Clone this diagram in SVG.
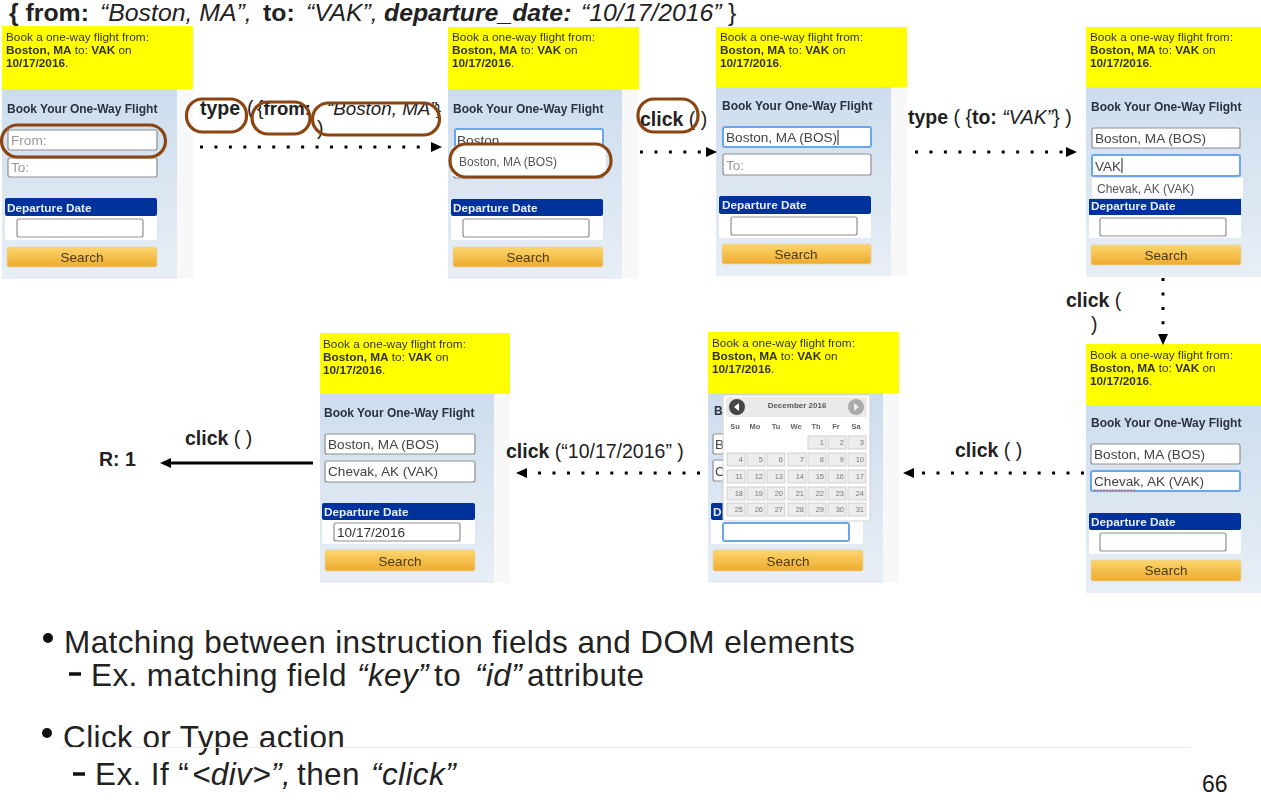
<svg xmlns="http://www.w3.org/2000/svg" width="1261" height="808" viewBox="0 0 1261 808">
<style>
text{font-family:"Liberation Sans",Arial,sans-serif;fill:#1a1a1a}
.y{fill:#ffff00}
.strip{fill:#f8f8f8}
.blue{fill:url(#bg)}
.yt{font-size:11.8px;fill:#33331a}
.yb{font-weight:bold}
.title{font-size:12px;font-weight:bold;fill:#2a3140}
.in{fill:#fff;stroke:#8f8f8f;stroke-width:1.2}
.foc{fill:#fff;stroke:#6aa6e8;stroke-width:2}
.it{font-size:13.6px;fill:#444}
.ph{font-size:13.6px;fill:#999}
.dd{font-size:12px;fill:#555}
.dep{fill:#00329b}
.dt{font-size:11.800px;font-weight:bold;fill:#e8eefa}
.wh{fill:#fff}
.btn{fill:url(#bt);stroke:#e2d3a8;stroke-width:.8}
.bl{font-size:13.500px;fill:#4a3a10;text-anchor:middle}
.lab{font-size:19.500px;fill:#222}
.b{font-weight:bold}
.i{font-style:italic}
.ring{fill:none;stroke:#8b4513;stroke-width:3.2}
.dot{fill:none;stroke:#000;stroke-width:3;stroke-dasharray:3 11.45}
.solid{fill:none;stroke:#000;stroke-width:3}
.big{font-size:31.500px;letter-spacing:.4px;fill:#222}
.cell{fill:#ededed;stroke:#c8c8c8;stroke-width:.8}
.cn{font-size:7.500px;fill:#777;text-anchor:end}
.cd{font-size:7.500px;font-weight:bold;fill:#666;text-anchor:middle}
.hd{font-size:24.800px;fill:#222}
</style>
<defs>
<linearGradient id="bg" x1="0" y1="0" x2="0" y2="1"><stop offset="0" stop-color="#cddded"/><stop offset="1" stop-color="#e8eef6"/></linearGradient>
<linearGradient id="bt" x1="0" y1="0" x2="0" y2="1"><stop offset="0" stop-color="#fcd66e"/><stop offset="1" stop-color="#eeaa2e"/></linearGradient>
<filter id="soft" x="-2%" y="-2%" width="104%" height="104%"><feGaussianBlur stdDeviation="0.4"/></filter>
</defs>

<text id="instruction" class="hd" y="21"><tspan class="b" x="9">{ from:</tspan><tspan class="i" x="100">“Boston, MA”,</tspan><tspan class="b" x="263">to:</tspan><tspan class="i" x="306">“VAK”,</tspan><tspan class="b i" x="384">departure_date:</tspan><tspan class="i" x="581">“10/17/2016”</tspan><tspan x="728">}</tspan></text>

<g id="panel-1" filter="url(#soft)">
<rect class="blue" x="2" y="89" width="175" height="190"/><rect class="strip" x="177" y="89" width="16" height="190"/>
<rect class="y" x="2" y="26" width="191" height="63"/>
<text class="yt" x="6" y="41">Book a one-way flight from:</text><text class="yt" x="6" y="54"><tspan class="yb">Boston, MA</tspan> to: <tspan class="yb">VAK</tspan> on</text><text class="yt" x="6" y="67"><tspan class="yb">10/17/2016</tspan>.</text>
<text class="title" x="7" y="113">Book Your One-Way Flight</text>
<rect class="in" x="8" y="130" width="149" height="20" rx="2"/><text class="ph" x="11" y="145">From:</text>
<rect class="in" x="8" y="158" width="149" height="19" rx="2"/><text class="ph" x="11" y="172">To:</text>
<rect class="wh" x="5" y="198" width="152" height="42" rx="2"/><rect class="dep" x="5" y="198" width="152" height="18" rx="2"/><text class="dt" x="7" y="212">Departure Date</text>
<rect class="in" x="17" y="219" width="126" height="18" rx="2"/>
<rect class="btn" x="7" y="247" width="150" height="20" rx="2"/><text class="bl" x="82" y="262">Search</text>
</g>

<g id="panel-2" filter="url(#soft)">
<rect class="blue" x="448" y="89" width="174" height="190"/><rect class="strip" x="622" y="89" width="17" height="190"/>
<rect class="y" x="448" y="27" width="191" height="62"/>
<text class="yt" x="452" y="41">Book a one-way flight from:</text><text class="yt" x="452" y="54"><tspan class="yb">Boston, MA</tspan> to: <tspan class="yb">VAK</tspan> on</text><text class="yt" x="452" y="67"><tspan class="yb">10/17/2016</tspan>.</text>
<text class="title" x="453" y="113">Book Your One-Way Flight</text>
<rect class="foc" x="455" y="129" width="148" height="21" rx="2"/><text class="it" x="457" y="145">Boston</text>
<rect class="in" x="454" y="165" width="149" height="13" rx="2"/>
<rect class="wh" x="452" y="146" width="154" height="30"/><text class="dd" x="459" y="166">Boston, MA (BOS)</text>
<rect class="wh" x="451" y="199" width="152" height="41" rx="2"/><rect class="dep" x="451" y="199" width="152" height="17" rx="2"/><text class="dt" x="453" y="212">Departure Date</text>
<rect class="in" x="463" y="219" width="126" height="18" rx="2"/>
<rect class="btn" x="453" y="247" width="150" height="20" rx="2"/><text class="bl" x="528" y="262">Search</text>
</g>

<g id="panel-3" filter="url(#soft)">
<rect class="blue" x="716" y="87" width="175" height="189"/><rect class="strip" x="891" y="87" width="16" height="189"/>
<rect class="y" x="716" y="27" width="191" height="60"/>
<text class="yt" x="720" y="41">Book a one-way flight from:</text><text class="yt" x="720" y="54"><tspan class="yb">Boston, MA</tspan> to: <tspan class="yb">VAK</tspan> on</text><text class="yt" x="720" y="67"><tspan class="yb">10/17/2016</tspan>.</text>
<text class="title" x="722" y="110">Book Your One-Way Flight</text>
<rect class="foc" x="723" y="127" width="148" height="20" rx="2"/><text class="it" x="726" y="142">Boston, MA (BOS)</text><path d="M838 130V145" stroke="#222"/>
<rect class="in" x="723" y="154" width="148" height="21" rx="2"/><text class="ph" x="726" y="170">To:</text>
<rect class="wh" x="719" y="196" width="152" height="42" rx="2"/><rect class="dep" x="719" y="196" width="152" height="18" rx="2"/><text class="dt" x="722" y="209">Departure Date</text>
<rect class="in" x="731" y="217" width="126" height="18" rx="2"/>
<rect class="btn" x="722" y="244" width="149" height="20" rx="2"/><text class="bl" x="796" y="259">Search</text>
</g>

<g id="panel-4" filter="url(#soft)">
<rect class="blue" x="1086" y="87" width="175" height="190"/>
<rect class="y" x="1086" y="27" width="175" height="60"/>
<text class="yt" x="1090" y="41">Book a one-way flight from:</text><text class="yt" x="1090" y="54"><tspan class="yb">Boston, MA</tspan> to: <tspan class="yb">VAK</tspan> on</text><text class="yt" x="1090" y="67"><tspan class="yb">10/17/2016</tspan>.</text>
<text class="title" x="1091" y="111">Book Your One-Way Flight</text>
<rect class="in" x="1092" y="128" width="148" height="20" rx="2"/><text class="it" x="1095" y="143">Boston, MA (BOS)</text>
<rect class="foc" x="1092" y="155" width="148" height="21" rx="2"/><text class="it" x="1095" y="171">VAK</text><path d="M1122 158V173" stroke="#222"/>
<rect class="wh" x="1092" y="178" width="151" height="20"/><text class="dd" x="1097" y="193">Chevak, AK (VAK)</text>
<rect class="wh" x="1089" y="199" width="152" height="39" rx="1"/><rect class="dep" x="1089" y="199" width="152" height="16"/><text class="dt" x="1091" y="210">Departure Date</text>
<rect class="in" x="1100" y="218" width="126" height="18" rx="2"/>
<rect class="btn" x="1091" y="245" width="150" height="20" rx="2"/><text class="bl" x="1166" y="260">Search</text>
</g>

<g id="panel-5" filter="url(#soft)">
<rect class="blue" x="1086" y="405" width="175" height="188"/>
<rect class="y" x="1086" y="344" width="175" height="61"/>
<text class="yt" x="1090" y="359">Book a one-way flight from:</text><text class="yt" x="1090" y="372"><tspan class="yb">Boston, MA</tspan> to: <tspan class="yb">VAK</tspan> on</text><text class="yt" x="1090" y="385"><tspan class="yb">10/17/2016</tspan>.</text>
<text class="title" x="1091" y="427">Book Your One-Way Flight</text>
<rect class="in" x="1091" y="444" width="149" height="20" rx="2"/><text class="it" x="1094" y="459">Boston, MA (BOS)</text>
<rect class="foc" x="1091" y="471" width="149" height="20" rx="2"/><text class="it" x="1094" y="486">Chevak, AK (VAK)</text><path d="M1094 490H1135" stroke="#e05050" stroke-dasharray="2 1"/>
<rect class="wh" x="1089" y="513" width="152" height="41" rx="2"/><rect class="dep" x="1089" y="513" width="152" height="17" rx="2"/><text class="dt" x="1091" y="526">Departure Date</text>
<rect class="in" x="1100" y="533" width="126" height="18" rx="2"/>
<rect class="btn" x="1091" y="560" width="150" height="21" rx="2"/><text class="bl" x="1166" y="575">Search</text>
</g>

<g id="panel-6" filter="url(#soft)">
<rect class="blue" x="708" y="393" width="175" height="190"/><rect class="strip" x="883" y="393" width="16" height="190"/>
<rect class="y" x="708" y="332" width="191" height="61"/>
<text class="yt" x="712" y="347">Book a one-way flight from:</text><text class="yt" x="712" y="360"><tspan class="yb">Boston, MA</tspan> to: <tspan class="yb">VAK</tspan> on</text><text class="yt" x="712" y="373"><tspan class="yb">10/17/2016</tspan>.</text>
<text class="title" x="714" y="415">B</text>
<rect class="in" x="713" y="434" width="150" height="20" rx="2"/><text class="it" x="715" y="449">B</text>
<rect class="in" x="713" y="460" width="150" height="21" rx="2"/><text class="it" x="715" y="476">C</text>
<rect class="wh" x="711" y="503" width="152" height="41" rx="2"/><rect class="dep" x="711" y="503" width="152" height="17" rx="2"/><text class="dt" x="713" y="516">D</text>
<rect class="foc" x="723" y="523" width="126" height="18" rx="2"/>
<rect class="btn" x="713" y="550" width="150" height="21" rx="2"/><text class="bl" x="788" y="566">Search</text>
<rect x="723" y="395" width="147" height="126" rx="2" fill="#fff" stroke="#d0d0d0"/>
<rect x="726" y="397" width="141" height="20" rx="2" fill="#eaeaea"/>
<circle cx="737" cy="407" r="8" fill="#444"/><path d="M739 403L734 407L739 411z" fill="#fff"/>
<circle cx="856" cy="407" r="8" fill="#aaa"/><path d="M854 403L859 407L854 411z" fill="#eee"/>
<text x="797" y="408" style="font-size:8px;font-weight:bold;fill:#555;text-anchor:middle">December 2016</text>
<g class="days">
<text class="cd" x="735" y="429">Su</text><text class="cd" x="755" y="429">Mo</text><text class="cd" x="776" y="429">Tu</text><text class="cd" x="796" y="429">We</text><text class="cd" x="816" y="429">Th</text><text class="cd" x="836" y="429">Fr</text><text class="cd" x="856" y="429">Sa</text>
</g>
<g id="cal-cells">
<rect class="cell" x="808" y="436" width="18" height="13"/><text class="cn" x="824" y="445">1</text>
<rect class="cell" x="828" y="436" width="18" height="13"/><text class="cn" x="844" y="445">2</text>
<rect class="cell" x="848" y="436" width="18" height="13"/><text class="cn" x="864" y="445">3</text>
<rect class="cell" x="727" y="453" width="18" height="13"/><text class="cn" x="743" y="462">4</text>
<rect class="cell" x="747" y="453" width="18" height="13"/><text class="cn" x="763" y="462">5</text>
<rect class="cell" x="767" y="453" width="18" height="13"/><text class="cn" x="783" y="462">6</text>
<rect class="cell" x="788" y="453" width="18" height="13"/><text class="cn" x="804" y="462">7</text>
<rect class="cell" x="808" y="453" width="18" height="13"/><text class="cn" x="824" y="462">8</text>
<rect class="cell" x="828" y="453" width="18" height="13"/><text class="cn" x="844" y="462">9</text>
<rect class="cell" x="848" y="453" width="18" height="13"/><text class="cn" x="864" y="462">10</text>
<rect class="cell" x="727" y="470" width="18" height="13"/><text class="cn" x="743" y="479">11</text>
<rect class="cell" x="747" y="470" width="18" height="13"/><text class="cn" x="763" y="479">12</text>
<rect class="cell" x="767" y="470" width="18" height="13"/><text class="cn" x="783" y="479">13</text>
<rect class="cell" x="788" y="470" width="18" height="13"/><text class="cn" x="804" y="479">14</text>
<rect class="cell" x="808" y="470" width="18" height="13"/><text class="cn" x="824" y="479">15</text>
<rect class="cell" x="828" y="470" width="18" height="13"/><text class="cn" x="844" y="479">16</text>
<rect class="cell" x="848" y="470" width="18" height="13"/><text class="cn" x="864" y="479">17</text>
<rect class="cell" x="727" y="487" width="18" height="13"/><text class="cn" x="743" y="496">18</text>
<rect class="cell" x="747" y="487" width="18" height="13"/><text class="cn" x="763" y="496">19</text>
<rect class="cell" x="767" y="487" width="18" height="13"/><text class="cn" x="783" y="496">20</text>
<rect class="cell" x="788" y="487" width="18" height="13"/><text class="cn" x="804" y="496">21</text>
<rect class="cell" x="808" y="487" width="18" height="13"/><text class="cn" x="824" y="496">22</text>
<rect class="cell" x="828" y="487" width="18" height="13"/><text class="cn" x="844" y="496">23</text>
<rect class="cell" x="848" y="487" width="18" height="13"/><text class="cn" x="864" y="496">24</text>
<rect class="cell" x="727" y="503" width="18" height="13"/><text class="cn" x="743" y="512">25</text>
<rect class="cell" x="747" y="503" width="18" height="13"/><text class="cn" x="763" y="512">26</text>
<rect class="cell" x="767" y="503" width="18" height="13"/><text class="cn" x="783" y="512">27</text>
<rect class="cell" x="788" y="503" width="18" height="13"/><text class="cn" x="804" y="512">28</text>
<rect class="cell" x="808" y="503" width="18" height="13"/><text class="cn" x="824" y="512">29</text>
<rect class="cell" x="828" y="503" width="18" height="13"/><text class="cn" x="844" y="512">30</text>
<rect class="cell" x="848" y="503" width="18" height="13"/><text class="cn" x="864" y="512">31</text>
</g>
</g>

<g id="panel-7" filter="url(#soft)">
<rect class="blue" x="320" y="394" width="174" height="189"/><rect class="strip" x="494" y="394" width="16" height="189"/>
<rect class="y" x="320" y="333" width="190" height="61"/>
<text class="yt" x="323" y="348">Book a one-way flight from:</text><text class="yt" x="323" y="361"><tspan class="yb">Boston, MA</tspan> to: <tspan class="yb">VAK</tspan> on</text><text class="yt" x="323" y="374"><tspan class="yb">10/17/2016</tspan>.</text>
<text class="title" x="324" y="417">Book Your One-Way Flight</text>
<rect class="in" x="325" y="434" width="150" height="20" rx="2"/><text class="it" x="328" y="449">Boston, MA (BOS)</text>
<rect class="in" x="325" y="461" width="150" height="21" rx="2"/><text class="it" x="328" y="476">Chevak, AK (VAK)</text>
<rect class="wh" x="322" y="503" width="153" height="41" rx="2"/><rect class="dep" x="322" y="503" width="153" height="17" rx="2"/><text class="dt" x="324" y="516">Departure Date</text>
<rect class="in" x="334" y="523" width="126" height="18" rx="2"/><text class="it" x="337" y="537" style="fill:#333">10/17/2016</text>
<rect class="btn" x="325" y="550" width="150" height="21" rx="2"/><text class="bl" x="400" y="566">Search</text>
</g>

<g id="connectors">
<path class="dot" d="M200 147H431"/><path d="M431 142L442 147L431 152z"/>
<path class="dot" d="M640 152H706"/><path d="M706 147L717 152L706 157z"/>
<path class="dot" d="M915 152H1066"/><path d="M1066 147L1077 152L1066 157z"/>
<path class="dot" d="M1163 278V334"/><path d="M1158 334L1163 345L1168 334z"/>
<path class="dot" d="M1084 473H914"/><path d="M914 468L903 473L914 478z"/>
<path class="dot" d="M700 473H527"/><path d="M527 468L516 473L527 478z"/>
<path class="solid" d="M313 463H170"/><path d="M171 458L160 463L171 468z"/>
</g>

<g id="labels">
<text class="lab" x="200" y="115"><tspan class="b">type</tspan></text>
<text class="lab" x="247" y="115">(</text>
<text class="lab" x="257" y="115">{<tspan class="b" style="font-size:18.500px">from:</tspan></text>
<text class="lab i" x="327" y="115" style="font-size:18.800px">“Boston, MA”</text>
<text class="lab" x="436" y="115" style="font-size:15px">}</text>
<text class="lab" x="317" y="135">)</text>
<text class="lab" x="640" y="126"><tspan class="b">click</tspan> ( )</text>
<text class="lab" x="908" y="124"><tspan class="b">type</tspan> ( {<tspan class="b">to:</tspan> <tspan class="i">“VAK”</tspan>} )</text>
<text class="lab" x="1066" y="307"><tspan class="b">click</tspan> (</text>
<text class="lab" x="1091" y="331">)</text>
<text class="lab" x="955" y="457"><tspan class="b">click</tspan> ( )</text>
<text class="lab" x="506" y="458"><tspan class="b">click</tspan> (“10/17/2016” )</text>
<text class="lab" x="185" y="445"><tspan class="b">click</tspan> ( )</text>
<text class="lab b" x="99" y="466">R: 1</text>
</g>

<g id="highlights">
<rect class="ring" x="1.500" y="125" width="164" height="32" rx="16"/>
<rect class="ring" x="186.500" y="99" width="60" height="33" rx="16"/>
<rect class="ring" x="252" y="102" width="58" height="32" rx="16"/>
<rect class="ring" x="312.500" y="103" width="127" height="32" rx="16"/>
<rect class="ring" x="450" y="144" width="161" height="33" rx="16"/>
<rect class="ring" x="638" y="99" width="60" height="33" rx="16"/>
</g>

<g id="notes">
<circle cx="48" cy="638" r="5" fill="#111"/>
<text class="big" x="64" y="653">Matching between instruction fields and DOM elements</text>
<path d="M69 674H81" stroke="#111" stroke-width="3.500"/>
<text class="big" y="686"><tspan x="91">Ex. matching field</tspan><tspan class="i" x="357">“key”</tspan><tspan x="434">to</tspan><tspan class="i" x="475">“id”</tspan><tspan x="527">attribute</tspan></text>
<circle cx="47" cy="733" r="5" fill="#111"/>
<text class="big" x="63" y="748">Click or Type action</text>
<path d="M60 747.500H1190" stroke="#f2e8ec"/>
<path d="M73 774H85" stroke="#111" stroke-width="3.500"/>
<text class="big" y="785"><tspan x="95">Ex. If “</tspan><tspan class="i" x="192">&lt;div&gt;”,</tspan><tspan x="297">then</tspan><tspan class="i" x="371">“click”</tspan></text>
<text x="1202" y="792" font-size="23" fill="#222">66</text>
</g>
</svg>
